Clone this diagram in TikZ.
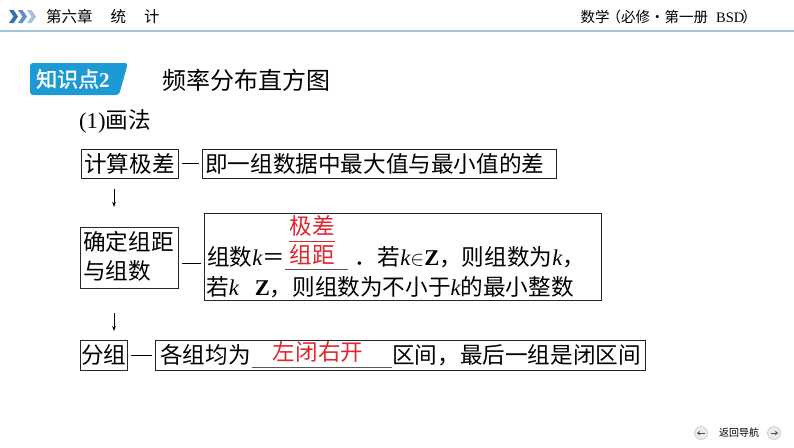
\documentclass[tikz,border=0pt]{standalone}
\usepackage{fontspec}
\setmainfont{Liberation Serif}
\newfontfamily\cjk{Noto Sans CJK SC}
\newfontfamily\cjkb[FakeBold=1.6]{Noto Sans CJK SC}
\usetikzlibrary{arrows.meta}
\definecolor{hdrline}{HTML}{A9C3DA}
\definecolor{badge}{HTML}{1B9AD6}
\definecolor{ansred}{HTML}{E0262E}
\definecolor{chevA}{HTML}{3B6FA8}
\definecolor{chevB}{HTML}{5E92C9}
\definecolor{chevC}{HTML}{A3C3E3}
\newcommand\kv{{\normalfont\itshape k}}
\newcommand\bZ{{\normalfont\bfseries Z}}
\begin{document}
\begin{tikzpicture}[x=1pt,y=-1pt,
  box/.style={draw=black!85, line width=0.8pt, inner sep=0pt, anchor=north west},
  body/.style={font=\cjk\fontsize{22.6}{28}\selectfont, inner sep=0pt, anchor=west},
  anstxt/.style={body, anchor=center, text=ansred},
  hdr/.style={font=\cjk\fontsize{15.5}{18}\selectfont, inner sep=0pt},
  arr/.style={-{Stealth[length=5pt,width=3.6pt]}, line width=0.8pt},
  dashline/.style={line width=1pt},
  blank/.style={line width=0.9pt, draw=black!65},
  navbtn/.style={circle, draw=black!30, fill=black!8, minimum size=13pt, inner sep=0pt},
]
\useasboundingbox (0,0) rectangle (794,447);

% header
\foreach \x/\c in {9/chevA,18/chevB,27/chevC}
  \fill[\c] (\x,10) -- (\x+4.5,10) -- (\x+9,16.5) -- (\x+4.5,23) -- (\x,23) -- (\x+4.5,16.5) -- cycle;
\node[hdr, anchor=west] (chap) at (46,16.5) {第六章\hspace{18pt}统\hspace{18pt}计};
\node[hdr, anchor=east, font=\cjk\fontsize{14.5}{18}\selectfont] (book) at (757,16.5) {数学\hspace{-3pt}（必修·第一册\hspace{8pt}{\rmfamily BSD}\hspace{-2pt}）};
\draw[hdrline, line width=1.5pt] (0,31) -- (794,31);

% badge and title
\fill[badge, rounded corners=3pt] (30,63) -- (128,63) -- (119,95) -- (30,95) -- cycle;
\node[inner sep=0pt, anchor=west, text=white, font=\cjkb\fontsize{21}{24}\selectfont] (badgetxt) at (36,79) {知识点{\rmfamily\bfseries 2}};
\node[inner sep=0pt, anchor=west, font=\cjk\fontsize{24}{28}\selectfont] (title) at (162,80) {频率分布直方图};
\node[body, anchor=west] (sub) at (79,121) {{\rmfamily (1)}画法};

% row 1
\node[box, minimum width=97pt, minimum height=29pt] (b1) at (81,149) {};
\node[body] (t1) at ([xshift=3pt]b1.west) {计算极差};
\node[box, minimum width=354pt, minimum height=29pt] (b2) at (202,149) {};
\node[body] (t2) at ([xshift=3pt]b2.west) {即一组数据中最大值与最小值的差};
\draw[dashline] ([xshift=3pt]b1.east) -- ([xshift=-3pt]b2.west);

% row 2
\node[box, minimum width=98pt, minimum height=61pt] (b3) at (80,227) {};
\node[body, anchor=north west] (t3a) at ([xshift=3pt,yshift=-4pt]b3.north west) {确定组距};
\node[body, anchor=north west] (t3b) at ([xshift=3pt,yshift=-33pt]b3.north west) {与组数};
\node[box, minimum width=397pt, minimum height=87pt] (b4) at (204,213) {};
\coordinate (d2) at ([xshift=3pt,yshift=-5.5pt]b3.east);
\draw[dashline] (d2) -- ([xshift=-3pt]d2 -| b4.west);
\node[body] (f0) at (207,257) {组数\kv＝};
\draw[blank] (285,269) -- (348,269);
\node[anstxt] (fden) at (312,255) {组距};
\node[anstxt] (fnum) at (312,226) {极差};
\draw[ansred, line width=0.9pt] (289,241) -- (335,241);
\node[body] (f1) at (354,257) {．\hspace{1pt}若\kv$\in$\bZ，则组数为\kv，};
\node[body] (f2) at (206,287) {若\kv\hspace{16pt}\bZ，则组数为不小于\kv 的最小整数};

% row 3
\node[box, minimum width=47pt, minimum height=30pt] (b5) at (80,340) {};
\node[body] (t5) at ([xshift=1pt]b5.west) {分组};
\node[box, minimum width=490pt, minimum height=30pt] (b6) at (155,340) {};
\draw[dashline] ([xshift=3pt]b5.east) -- ([xshift=-3pt]b6.west);
\node[body] (t6a) at (160,355) {各组均为};
\draw[blank] (252,367) -- (392,367);
\node[anstxt] (ans2) at (318,352) {左闭右开};
\node[body] (t6b) at (392,355) {区间，最后一组是闭区间};

% arrows
\draw[arr] ([xshift=33pt,yshift=-10pt]b1.south west) -- ([xshift=34pt,yshift=20pt]b3.north west);
\draw[arr] ([xshift=34pt,yshift=-24pt]b3.south west) -- ([xshift=34pt,yshift=9pt]b5.north west);

% bottom navigation
\node[navbtn] (navl) at (701,433) {};
\draw[black!70, line width=1pt, -{Stealth[length=3pt,width=4.5pt]}] ([xshift=3.5pt]navl.center) -- ([xshift=-4pt]navl.center);
\node[inner sep=0pt, font=\cjk\fontsize{10}{11}\selectfont, anchor=west] (navt) at (719,433) {返回导航};
\node[navbtn] (navr) at (774,433) {};
\draw[black!70, line width=1pt, -{Stealth[length=3pt,width=4.5pt]}] ([xshift=-3.5pt]navr.center) -- ([xshift=4pt]navr.center);
\end{tikzpicture}
\end{document}
